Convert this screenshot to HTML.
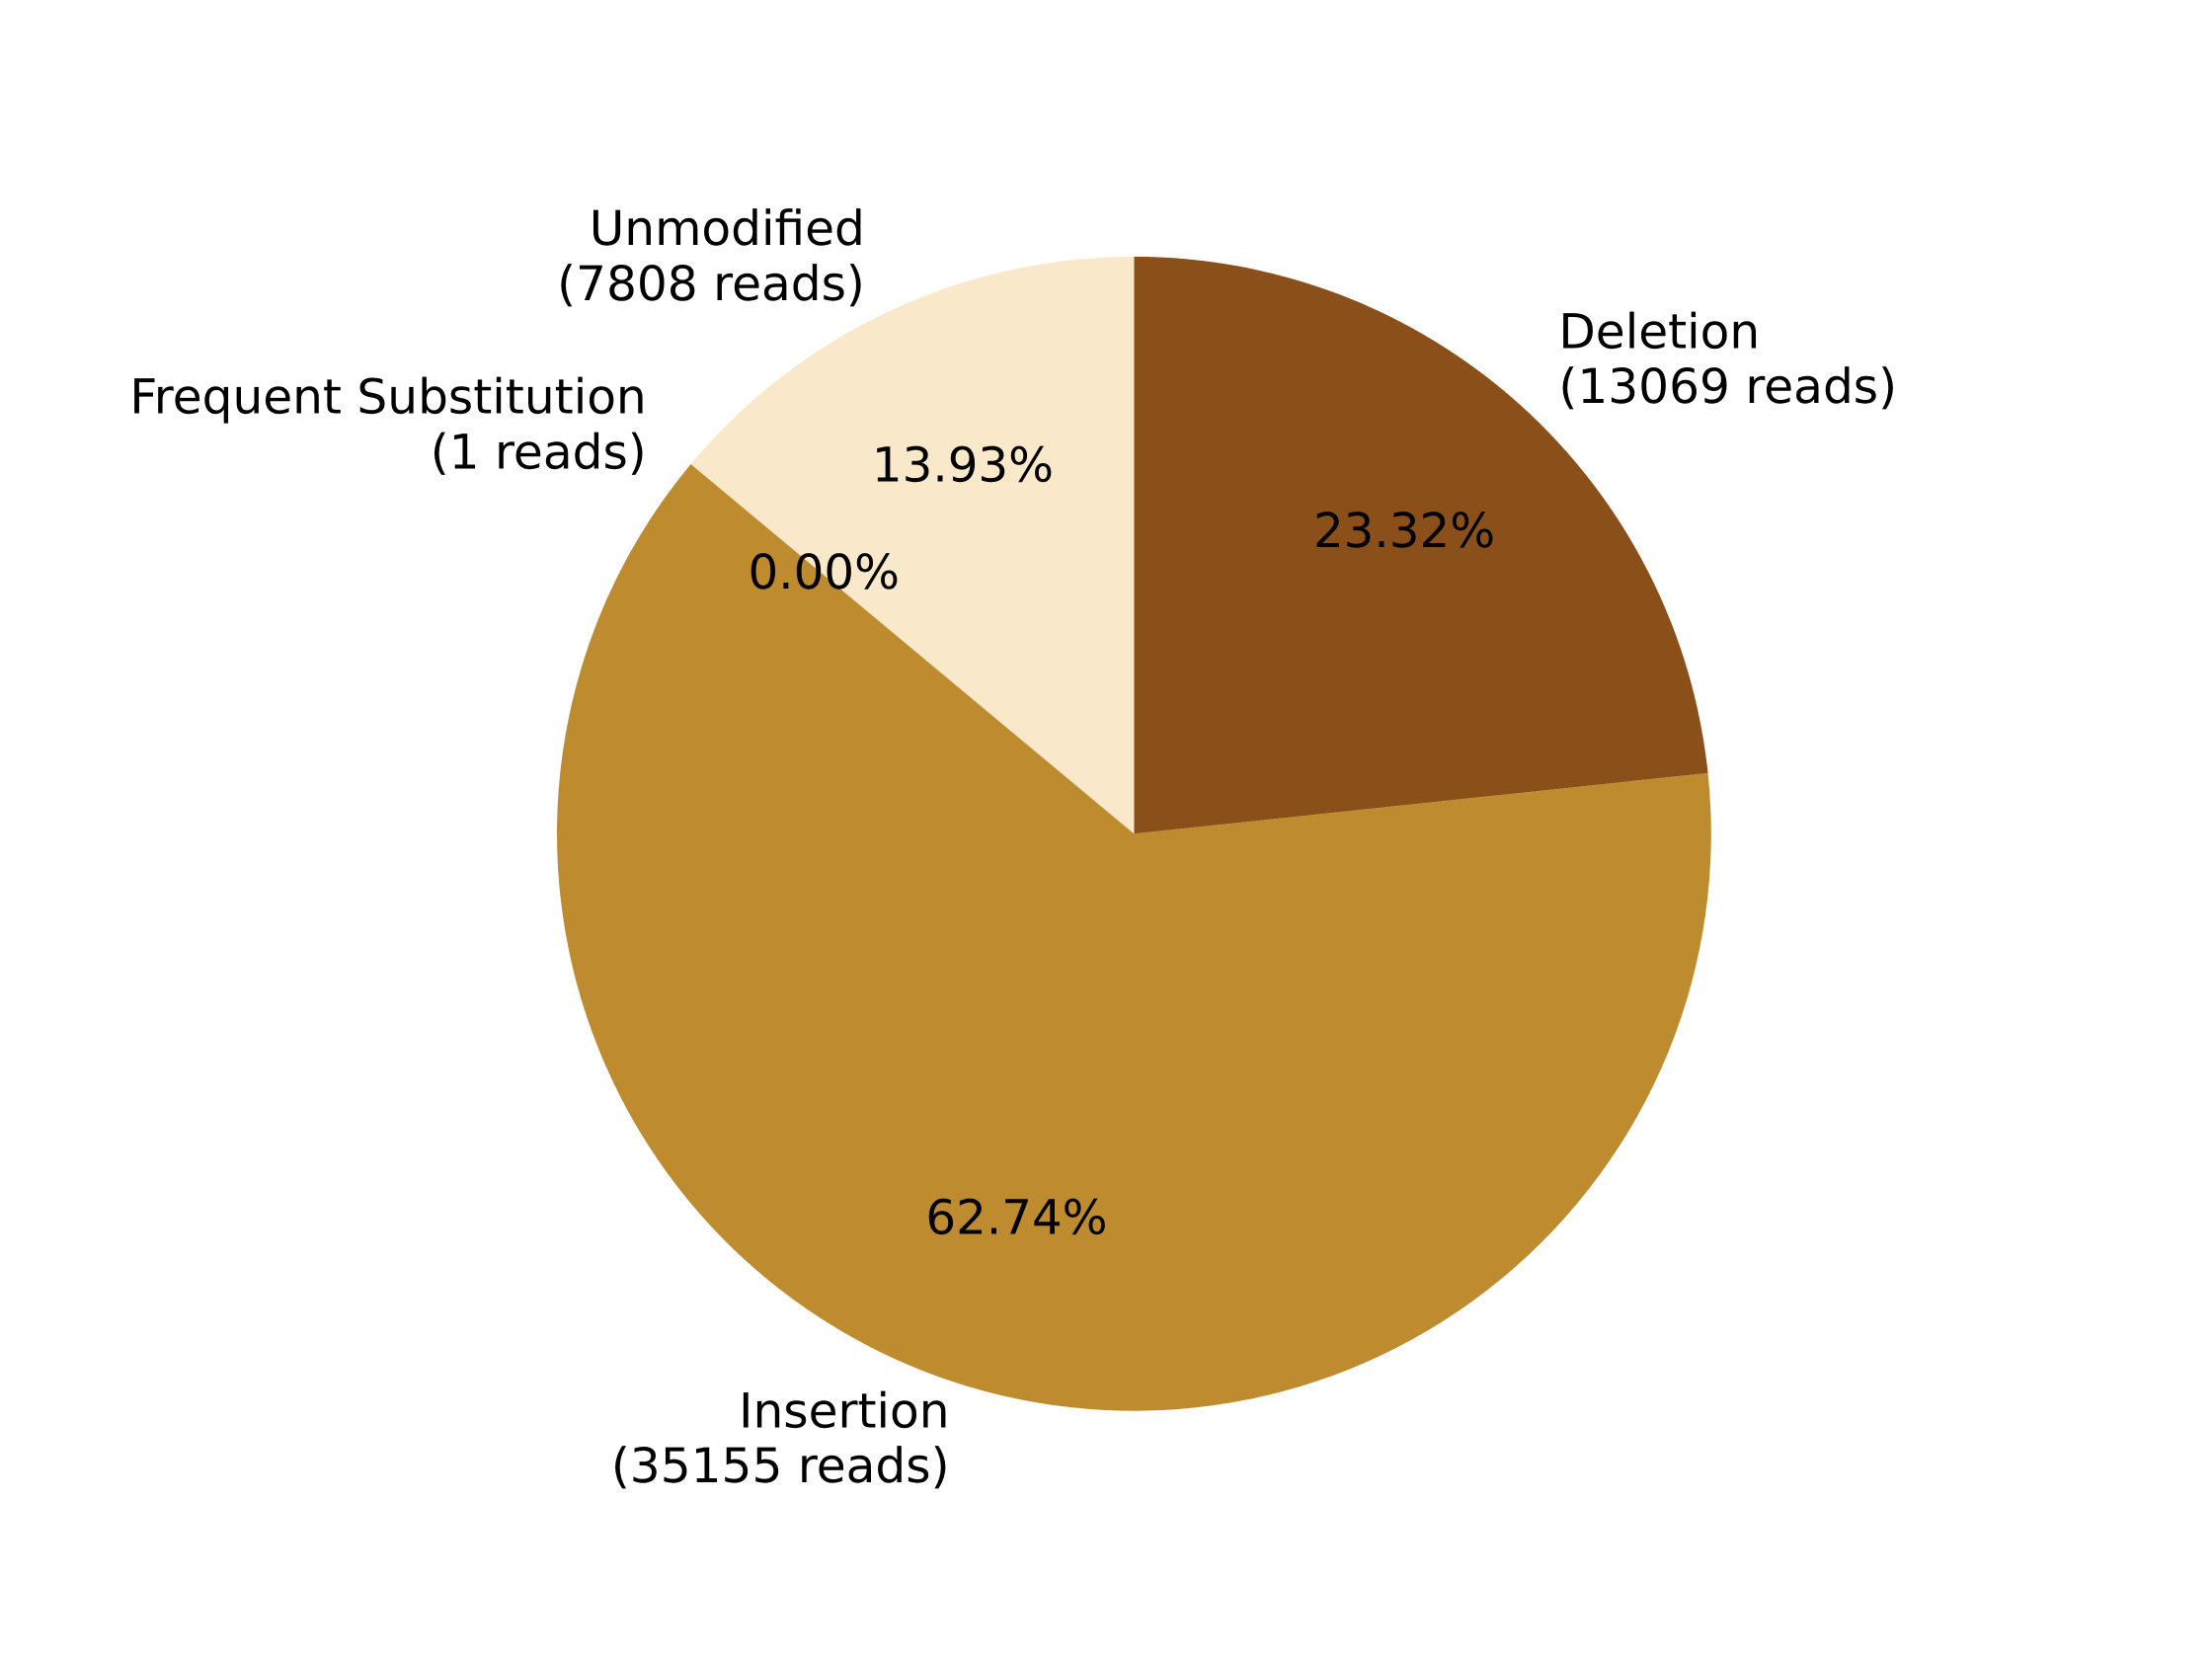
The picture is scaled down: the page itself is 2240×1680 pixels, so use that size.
<!DOCTYPE html>
<html lang="en">
<head>
<meta charset="utf-8">
<title>Read modification pie chart</title>
<style>
  html, body { margin: 0; padding: 0; background: #ffffff; }
  #chart { display: block; width: 2240px; height: 1680px; }
  text { font-family: "DejaVu Sans", "Liberation Sans", sans-serif; fill: #000000; text-rendering: geometricPrecision; }
  #labels text { font-size: 48.6px; }
  #percents text { font-size: 48.3px; }
</style>
</head>
<body>
<svg id="chart" xmlns="http://www.w3.org/2000/svg" width="2240" height="1680" viewBox="0 0 2240 1680">
  <rect x="0" y="0" width="2240" height="1680" fill="#ffffff"/>
  <g id="wedges"></g>
  <g id="labels"></g>
  <g id="percents"></g>
</svg>
<script>
const categories = ["Deletion", "Insertion", "Frequent Substitution", "Unmodified"];
const readCounts = [13069, 35155, 1, 7808];
const sliceColors = ["#8b4f1a", "#be8b2f", "#dcb974", "#f9e9ca"];

const SVG_NS = "http://www.w3.org/2000/svg";
const centerX = 1148.4;
const centerY = 844.3;
const radius = 584.4;
const labelDistance = 1.1;
const percentDistance = 0.7;
const total = readCounts.reduce(function (sum, v) { return sum + v; }, 0);

function pointAt(fraction, distance) {
  const angle = fraction * 2 * Math.PI;
  return {
    x: centerX + distance * radius * Math.sin(angle),
    y: centerY - distance * radius * Math.cos(angle)
  };
}

const wedgeLayer = document.getElementById("wedges");
const labelLayer = document.getElementById("labels");
const percentLayer = document.getElementById("percents");
let cumulative = 0;

categories.forEach(function (name, i) {
  const share = readCounts[i] / total;
  const start = cumulative;
  const end = cumulative + share;
  const mid = (start + end) / 2;
  cumulative = end;

  const a = pointAt(start, 1);
  const b = pointAt(end, 1);
  const largeArc = share > 0.5 ? 1 : 0;
  const wedge = document.createElementNS(SVG_NS, "path");
  wedge.setAttribute("d", "M" + centerX + " " + centerY + " L" + a.x + " " + a.y +
    " A" + radius + " " + radius + " 0 " + largeArc + " 1 " + b.x + " " + b.y + " Z");
  wedge.setAttribute("fill", sliceColors[i]);
  
  
  wedgeLayer.appendChild(wedge);

  const labelPos = pointAt(mid, labelDistance);
  const label = document.createElementNS(SVG_NS, "text");
  label.setAttribute("text-anchor", labelPos.x >= centerX ? "start" : "end");
  
  
  const line1 = document.createElementNS(SVG_NS, "tspan");
  line1.setAttribute("x", labelPos.x);
  line1.setAttribute("y", labelPos.y - 14);
  line1.textContent = name;
  const line2 = document.createElementNS(SVG_NS, "tspan");
  line2.setAttribute("x", labelPos.x);
  line2.setAttribute("y", labelPos.y + 41.8);
  line2.textContent = "(" + readCounts[i] + " reads)";
  label.appendChild(line1);
  label.appendChild(line2);
  labelLayer.appendChild(label);

  const percentPos = pointAt(mid, percentDistance);
  const percent = document.createElementNS(SVG_NS, "text");
  percent.setAttribute("x", percentPos.x);
  percent.setAttribute("y", percentPos.y + 13.8);
  percent.setAttribute("text-anchor", "middle");
  
  
  percent.textContent = (share * 100).toFixed(2) + "%";
  percentLayer.appendChild(percent);
});
</script>
</body>
</html>
